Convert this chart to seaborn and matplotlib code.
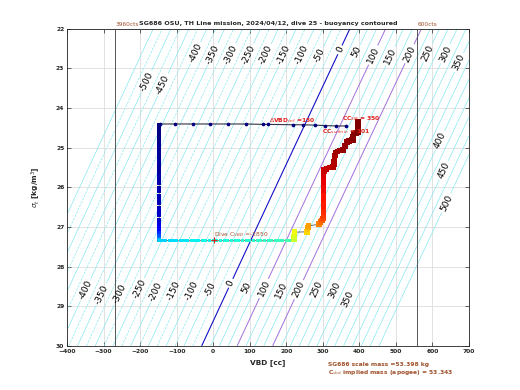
import matplotlib

matplotlib.use("Agg")

import matplotlib.pyplot as plt
import numpy as np
import pandas as pd
import seaborn as sns

# ---- constants --------------------------------------------------------------
MASS_IMPLIED_G = 53343.0   # C_vbd implied mass (apogee), grams
V0_CC = 51821.0            # hull volume at VBD = 0, cc (fitted to the 0 contour)
MINOR_LEVELS = np.arange(-525, 476, 50)   # unlabelled contours
MAJOR_LEVELS = np.arange(-550, 501, 50)   # labelled contours

# manual contour label positions (vbd, sigma_t)
LABEL_POS = [
    (-192, 23.29), (-151, 23.34), (-55, 22.58), (-9, 22.61), (40, 22.61),
    (87, 22.61), (133, 22.61), (183, 22.61), (232, 22.61), (278, 22.61),
    (347, 22.53), (393, 22.58), (437, 22.66), (478, 22.66), (533, 22.61),
    (588, 22.61), (642, 22.66), (675, 22.86), (629, 24.85), (640, 25.61),
    (648, 26.44),
    (-359, 28.54), (-312, 28.67), (-260, 28.67), (-208, 28.54), (-165, 28.59),
    (-113, 28.59), (-63, 28.59), (-14, 28.54), (46, 28.41), (95, 28.54),
    (136, 28.54), (188, 28.59), (237, 28.59), (287, 28.59), (333, 28.59),
    (374, 28.84),
]

# surface pump (dots)
surf_vbd = [363, 336, 306, 278, 246, 219, 151, 135, 89, 40, -9, -56, -104, -147]
surf_sigma = [24.45, 24.45, 24.44, 24.43, 24.42, 24.42, 24.41, 24.41, 24.40,
              24.40, 24.40, 24.40, 24.40, 24.40]

# dive profile coloured by elapsed time
descent_sigma = [24.42, 24.49, 24.57, 24.66, 24.74, 24.83, 24.92, 25.01, 25.11,
                 25.20, 25.30, 25.41, 25.50, 25.60, 25.71, 25.80, 25.90, 26.01,
                 26.10, 26.21, 26.30, 26.40, 26.51, 26.60, 26.70, 26.81, 26.90,
                 27.00, 27.08, 27.16, 27.23, 27.29, 27.33]
descent_vbd = [-148] * len(descent_sigma)
descent_min = [0, 0, 1, 1, 1, 1, 2, 2, 2, 2, 3, 3, 3, 3, 4, 4, 4, 4, 5, 5, 5,
               5, 6, 6, 6, 7, 8, 10, 13, 17, 21, 25, 29]

apogee_vbd = [-148, -140, -130, -120, -110, -100, -90, -80, -70, -60, -50, -40,
              -30, -20, -10, 0, 10, 20, 30, 40, 50, 60, 70, 80, 90, 100, 110,
              120, 130, 140, 150, 160, 170, 180, 190, 200, 210, 220]
apogee_sigma = [27.34, 27.35, 27.34, 27.34, 27.35, 27.35, 27.34, 27.34, 27.35,
                27.34, 27.34, 27.35, 27.34, 27.34, 27.35, 27.34, 27.34, 27.35,
                27.34, 27.34, 27.35, 27.34, 27.33, 27.34, 27.33, 27.34, 27.35,
                27.34, 27.34, 27.35, 27.34, 27.34, 27.35, 27.34, 27.34, 27.33,
                27.34, 27.33]
apogee_min = [33, 33, 33, 34, 34, 34, 35, 35, 35, 36, 36, 36, 37, 37, 37, 38,
              38, 38, 38, 39, 39, 39, 39, 40, 40, 40, 40, 41, 41, 41, 41, 42,
              42, 42, 42, 43, 43, 43]

climb_vbd = [221, 221, 222, 222, 257, 258, 259, 261, 290, 294, 298, 300, 302,
             302, 302, 302, 302, 302, 302, 302, 302, 302, 302, 302, 302, 303,
             303, 310, 318, 328, 330, 331, 332, 333, 334, 340, 347, 355, 360,
             366, 372, 378, 382, 383, 384, 390, 396, 396, 396, 396]
climb_sigma = [27.30, 27.24, 27.18, 27.13, 27.12, 27.06, 27.01, 26.97, 26.93,
               26.88, 26.83, 26.78, 26.72, 26.63, 26.55, 26.47, 26.38, 26.28,
               26.18, 26.08, 25.98, 25.88, 25.78, 25.70, 25.63, 25.58, 25.56,
               25.53, 25.50, 25.48, 25.42, 25.35, 25.27, 25.20, 25.12, 25.09,
               25.07, 25.05, 24.95, 24.85, 24.83, 24.81, 24.80, 24.72, 24.64,
               24.63, 24.60, 24.50, 24.42, 24.35]
climb_min = [59, 61, 62, 64, 68, 70, 72, 74, 77, 79, 81, 83, 85, 86, 87, 88,
             88, 89, 89, 90, 90, 91, 91, 92, 92, 93, 93, 94, 94, 95, 95, 96,
             96, 96, 97, 97, 97, 98, 98, 98, 98, 99, 99, 99, 99, 100, 100, 100,
             100, 100]

DIVE_CVBD = (2, 27.33)
BROWN = "#a0522d"
RED = "#e0201a"
CYAN = "#86e8f0"
JET = matplotlib.colormaps["jet"]


def level_style(level):
    if level == 0:
        return "#1010c8", 0.8
    if level in (100, 200):
        return "#a070dc", 0.7
    return CYAN, 0.5


# ---- figure ------------------------------------------------------------------
sns.set_style("ticks")
plt.rcParams["font.family"] = ["DejaVu Sans"]

fig = plt.figure(figsize=(5.2, 3.9), dpi=100)
ax = fig.add_axes([0.129, 0.113, 0.773, 0.813])
ax.set_xlim(-400, 700)
ax.set_ylim(30, 22)

# buoyancy field (grams)
vv, ss = np.meshgrid(np.linspace(-400, 700, 300), np.linspace(22, 30, 200))
buoy = (V0_CC + vv) * (1000.0 + ss) / 1000.0 - MASS_IMPLIED_G

ax.contour(vv, ss, buoy, levels=MINOR_LEVELS, colors=CYAN, linewidths=0.5,
           zorder=2)
major_styles = [level_style(level) for level in MAJOR_LEVELS]
cs = ax.contour(vv, ss, buoy, levels=MAJOR_LEVELS,
                colors=[c for c, _ in major_styles],
                linewidths=[w for _, w in major_styles], zorder=2)
labels = ax.clabel(cs, manual=LABEL_POS, inline=True, inline_spacing=2,
                   fontsize=6.5, fmt="%d", colors="black")

# the y axis is flipped, so set the label angle from the zero contour on screen
top = ax.transData.transform((MASS_IMPLIED_G * 1000 / 1022 - V0_CC, 22))
bottom = ax.transData.transform((MASS_IMPLIED_G * 1000 / 1030 - V0_CC, 30))
angle = np.degrees(np.arctan2(top[1] - bottom[1], top[0] - bottom[0]))
for text in labels:
    text.set_rotation(angle)

# counts limits
ax.axvline(-270, color="#555555", lw=0.7, zorder=3)
ax.axvline(557, color="#555555", lw=0.7, zorder=3)

# dive track
descent = pd.DataFrame({"vbd": descent_vbd, "sigma": descent_sigma,
                        "minutes": descent_min})
apogee = pd.DataFrame({"vbd": apogee_vbd, "sigma": apogee_sigma,
                       "minutes": apogee_min})
climb = pd.DataFrame({"vbd": climb_vbd, "sigma": climb_sigma,
                      "minutes": climb_min})
track = pd.concat([descent, apogee, climb], ignore_index=True)
ax.plot(track["vbd"], track["sigma"], color="#555555", lw=0.6, zorder=4)
for part, size in ((descent, 8), (apogee, 5), (climb, 16)):
    sns.scatterplot(data=part, x="vbd", y="sigma", hue="minutes", palette=JET,
                    hue_norm=(0, 100), s=size, linewidth=0, marker="s",
                    legend=False, ax=ax, zorder=5)

surf = pd.DataFrame({"vbd": surf_vbd, "sigma": surf_sigma})
ax.plot(surf["vbd"], surf["sigma"], color="#333344", lw=0.8, zorder=4)
sns.scatterplot(data=surf, x="vbd", y="sigma", color="#000080", s=7,
                linewidth=0, ax=ax, zorder=6)

# annotations
ax.plot(*DIVE_CVBD, marker="+", color=RED, ms=4, mew=0.8, zorder=7)
ax.text(DIVE_CVBD[0], DIVE_CVBD[1] - 0.02, "Dive C$_{VBD}$ =-2850", color=BROWN,
        fontsize=4.3, ha="left", va="bottom", zorder=8)
ax.text(152, 24.43, r"$\Delta$VBD$_{cnf}$ =150", color=RED, fontsize=4.3,
        fontweight="bold", ha="left", va="bottom", zorder=8)
ax.text(353, 24.38, "CC$_{SM}$ = 350", color=RED, fontsize=4.3,
        fontweight="bold", ha="left", va="bottom", zorder=8)
ax.text(298, 24.47, "CC$_{surfmin}$ = 301", color=RED, fontsize=4.3,
        fontweight="bold", ha="left", va="top", zorder=8)

ax.text(-268, 21.96, "3960cts", color=BROWN, fontsize=4.2, ha="left",
        va="bottom")
ax.text(559, 21.96, "600cts", color=BROWN, fontsize=4.2, ha="left",
        va="bottom")
ax.set_title("SG686 OSU, TH Line mission, 2024/04/12, dive 25 - buoyancy contoured",
             fontsize=4.6, fontweight="bold", pad=2.5)

fig.text(0.631, 0.066, "SG686 scale mass =53.398 kg", color=BROWN,
         fontsize=4.3, fontweight="bold", ha="left", va="center")
fig.text(0.631, 0.044, "C$_{vbd}$ implied mass (apogee) = 53.343", color=BROWN,
         fontsize=4.3, fontweight="bold", ha="left", va="center")

# axes cosmetics
ax.set_xticks(np.arange(-400, 701, 100))
ax.set_yticks(np.arange(22, 31, 1))
ax.grid(True, color="#dddddd", lw=0.6, zorder=0)
ax.set_axisbelow(True)
ax.tick_params(direction="in", length=3, width=0.5, labelsize=4.3,
               top=True, right=True, pad=2)
for label in ax.get_xticklabels() + ax.get_yticklabels():
    label.set_fontweight("bold")
for spine in ax.spines.values():
    spine.set_linewidth(0.6)
    spine.set_color("#222222")
ax.set_xlabel("VBD [cc]", fontsize=5.3, fontweight="bold", labelpad=4)
ax.set_ylabel(r"$\sigma_t$ [kg/m$^3$]", fontsize=5.3, fontweight="bold",
              labelpad=9)

fig.savefig("out.png", dpi=100, facecolor="white")
